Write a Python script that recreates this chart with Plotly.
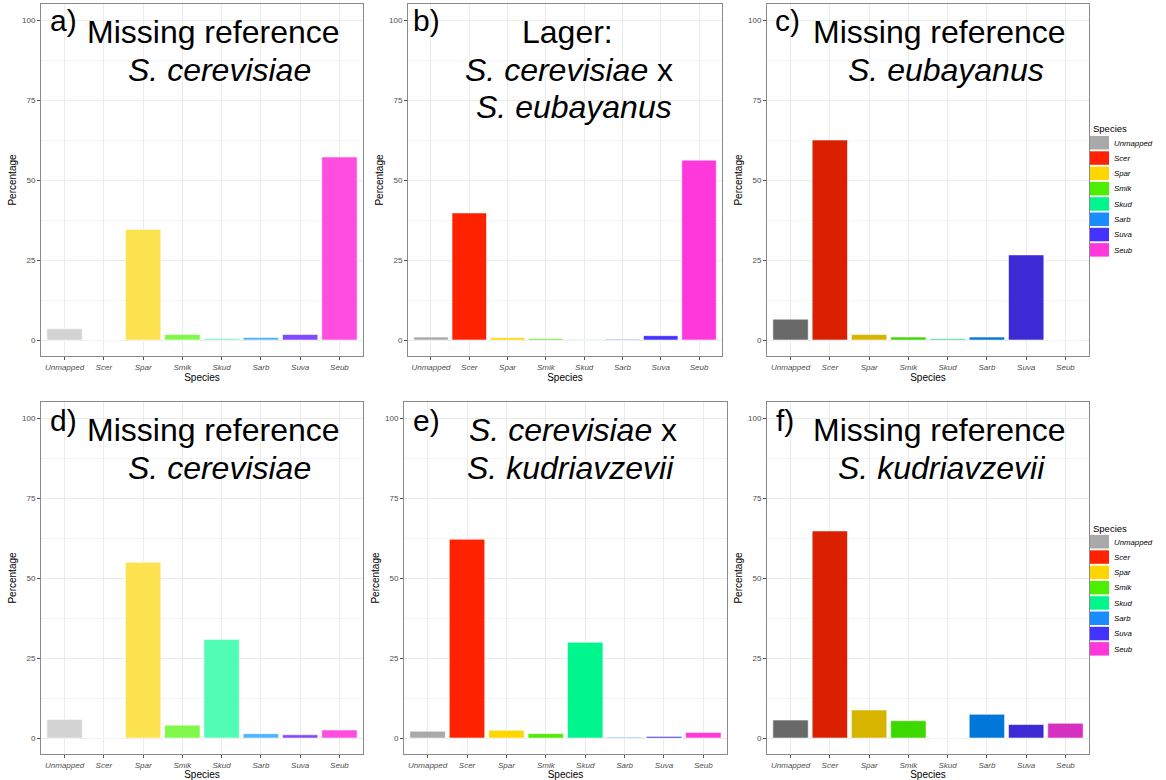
import plotly.graph_objects as go

W, H = 1166, 780

species = ["Unmapped", "Scer", "Spar", "Smik", "Skud", "Sarb", "Suva", "Seub"]

panel_a = [3.5, 0.0, 34.5, 1.7, 0.4, 0.8, 1.7, 57.2]
panel_b = [0.9, 39.7, 0.7, 0.4, 0.1, 0.2, 1.35, 56.2]
panel_c = [6.5, 62.5, 1.7, 0.9, 0.4, 0.9, 26.6, 0.0]
panel_d = [5.8, 0.0, 54.9, 4.0, 30.8, 1.35, 1.0, 2.5]
panel_e = [2.1, 62.1, 2.4, 1.35, 29.9, 0.2, 0.5, 1.7]
panel_f = [5.6, 64.7, 8.75, 5.4, 0.0, 7.4, 4.2, 4.6]

palette_full = ["#A9A9A9", "#FF2200", "#FFD700", "#4DEE00", "#00F58C", "#1A8CFF", "#4433FF", "#FF38DC"]
palette_light = ["#D3D3D3", "#FF6A55", "#FBE24E", "#80F84A", "#50FCB4", "#4DB5FF", "#8048FF", "#FF4DE0"]
palette_dark = ["#696969", "#DA2000", "#D6B400", "#3CD800", "#2BD68A", "#0077D9", "#3C2AD4", "#D630C0"]

panel_letters = ["a)", "b)", "c)", "d)", "e)", "f)"]
panel_titles = [
    ["Missing reference", "<i>S. cerevisiae</i>"],
    ["Lager:", "<i>S. cerevisiae</i> x", "<i>S. eubayanus</i>"],
    ["Missing reference", "<i>S. eubayanus</i>"],
    ["Missing reference", "<i>S. cerevisiae</i>"],
    ["<i>S. cerevisiae</i> x", "<i>S. kudriavzevii</i>"],
    ["Missing reference", "<i>S. kudriavzevii</i>"],
]
y_ticks = [0, 25, 50, 75, 100]
legend_title = "Species"

panels = [panel_a, panel_b, panel_c, panel_d, panel_e, panel_f]
palettes = [palette_light, palette_full, palette_dark, palette_light, palette_full, palette_dark]

# layout geometry (pixels)
x_px = [(41, 363), (408, 722), (767, 1089), (41, 363), (404, 727), (767, 1089)]
y_px = [(4, 356), (4, 356), (4, 356), (402, 754), (402, 754), (402, 754)]
title_x = [[213, 219], [567, 569, 574], [939, 946], [213, 219], [573, 570], [939, 941]]
title_y_top = [32, 70, 107]
letter_x = [48, 411, 773, 48, 411, 774]
letter_y = [20, 20, 20, 420, 420, 420]
row_off = [0, 0, 0, 398, 398, 398]

FONT = "Liberation Sans, Arial, Helvetica, sans-serif"

def px(x):
    return x / W

def py(y):
    return 1 - y / H

fig = go.Figure()
layout = dict(
    width=W, height=H,
    margin=dict(l=0, r=0, t=0, b=0),
    paper_bgcolor="white", plot_bgcolor="white",
    showlegend=False,
    font=dict(family=FONT, color="black"),
    bargap=0.1,
)

annotations = []
shapes = []

for i, (vals, pal) in enumerate(zip(panels, palettes)):
    n = "" if i == 0 else str(i + 1)
    fig.add_trace(go.Bar(
        x=species, y=vals,
        marker=dict(color=pal, line=dict(color="rgba(255,255,255,0.55)", width=1)),
        width=0.9,
        xaxis="x" + n, yaxis="y" + n,
        hoverinfo="x+y",
    ))
    x0, x1 = x_px[i]
    y0, y1 = y_px[i]
    layout["xaxis" + n] = dict(
        domain=[px(x0), px(x1)], anchor="y" + n,
        type="category", categoryorder="array", categoryarray=species,
        range=[-0.6, 7.6],
        showgrid=True, gridcolor="#EBEBEB", gridwidth=1,
        showline=True, mirror=True, linecolor="#8A8A8A", linewidth=1,
        ticks="outside", ticklen=3, tickcolor="#555555", tickwidth=1,
        tickfont=dict(size=8, color="#4D4D4D", family=FONT, style="italic"),
        title=dict(text="Species", font=dict(size=10, color="black"), standoff=3),
        zeroline=False, fixedrange=True, automargin=False,
    )
    layout["yaxis" + n] = dict(
        domain=[py(y1), py(y0)], anchor="x" + n,
        range=[-5, 105],
        tickvals=y_ticks, ticktext=[str(v) for v in y_ticks],
        showgrid=True, gridcolor="#EBEBEB", gridwidth=1,
        minor=dict(dtick=12.5, tick0=0, showgrid=True, gridcolor="#F4F4F4", gridwidth=1, ticks=""),
        showline=True, mirror=True, linecolor="#8A8A8A", linewidth=1,
        ticks="outside", ticklen=3, tickcolor="#555555", tickwidth=1,
        tickfont=dict(size=8, color="#4D4D4D", family=FONT),
        title=dict(text="Percentage", font=dict(size=10, color="black"), standoff=3),
        zeroline=False, fixedrange=True, automargin=False,
    )
    # panel letter
    annotations.append(dict(
        text=panel_letters[i], xref="paper", yref="paper",
        x=px(letter_x[i]), y=py(letter_y[i]), xanchor="left", yanchor="middle",
        showarrow=False, font=dict(size=30, color="black", family=FONT),
    ))
    # title lines
    for j, line in enumerate(panel_titles[i]):
        annotations.append(dict(
            text=line, xref="paper", yref="paper",
            x=px(title_x[i][j]), y=py(title_y_top[j] + row_off[i]),
            xanchor="center", yanchor="middle",
            showarrow=False, font=dict(size=32, color="black", family=FONT),
        ))

# legends (two, one per row), drawn from species + full palette
for off in [0, 399]:
    annotations.append(dict(
        text=legend_title, xref="paper", yref="paper",
        x=px(1091), y=py(129 + off), xanchor="left", yanchor="middle",
        showarrow=False, font=dict(size=9.5, color="black", family=FONT),
    ))
    for k, (sp, col) in enumerate(zip(species, palette_full)):
        top = 136 + 15.3 * k + off
        shapes.append(dict(
            type="rect", xref="paper", yref="paper",
            x0=px(1090), x1=px(1109), y0=py(top + 13.5), y1=py(top),
            fillcolor=col, line=dict(width=0),
        ))
        annotations.append(dict(
            text=sp, xref="paper", yref="paper",
            x=px(1112), y=py(top + 7), xanchor="left", yanchor="middle",
            showarrow=False, font=dict(size=7.8, color="black", family=FONT, style="italic"),
        ))

layout["annotations"] = annotations
layout["shapes"] = shapes
fig.update_layout(**layout)
fig.write_html(
    "out.html",
    config={"displayModeBar": False},
    post_script="document.body.style.margin='0';document.body.style.overflow='hidden';",
)
